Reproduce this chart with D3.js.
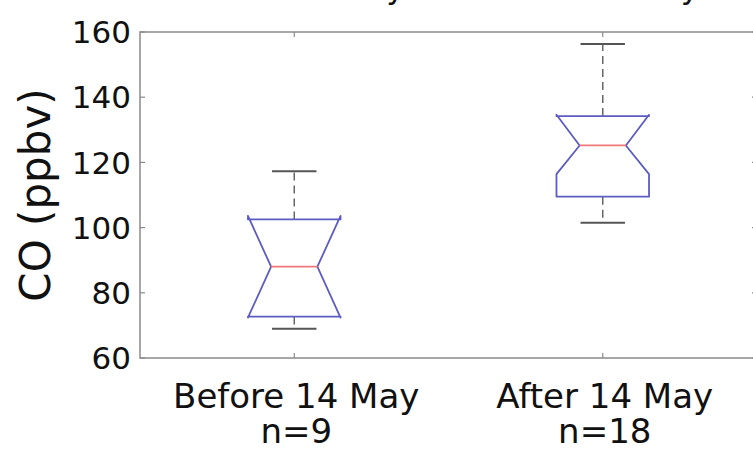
<!DOCTYPE html>
<html>
<head>
<meta charset="utf-8">
<script src="https://cdn.jsdelivr.net/npm/d3@7"></script>
<style>
  body { margin: 0; background: #fff; }
  svg { display: block; }
  text { font-family: "DejaVu Sans", sans-serif; fill: #111; }
</style>
</head>
<body>
<div id="chart"></div>
<script>
// groups and box statistics (CO, ppbv)
const categories = ['Before 14 May', 'After 14 May'];
const counts = [9, 18];
const whiskerLow = [69, 101.5];
const quart1 = [72.7, 109.5];
const medians = [88, 125.2];
const quart3 = [102.5, 134.2];
const whiskerHigh = [117.3, 156.3];
const notchLow = [72.4, 116.4];
const notchHigh = [103.6, 134.6];
const yTicks = [60, 80, 100, 120, 140, 160];

const width = 753, height = 453;
const margin = { top: 32, right: -4, bottom: 95, left: 140 };

const svg = d3.select('#chart').append('svg')
    .attr('width', width)
    .attr('height', height);

const x = d3.scaleLinear()
    .domain([0.5, categories.length + 0.5])
    .range([margin.left, width - margin.right]);

const y = d3.scaleLinear()
    .domain([60, 160])
    .range([height - margin.bottom, margin.top]);

const boxHalf = 0.15;   // box half width in x units
const notchHalf = 0.075;
const capHalf = 0.072;

// frame
svg.append('rect')
    .attr('x', x(0.5)).attr('y', y(160))
    .attr('width', x(2.5) - x(0.5)).attr('height', y(60) - y(160))
    .attr('fill', 'none')
    .attr('stroke', '#8a8a8a')
    .attr('stroke-width', 1.5);

// ticks, pointing inward on all four sides
const tickLen = 5;
const tickG = svg.append('g').attr('stroke', '#8a8a8a').attr('stroke-width', 1.2);
yTicks.forEach(t => {
    tickG.append('line').attr('x1', x(0.5)).attr('x2', x(0.5) + tickLen).attr('y1', y(t)).attr('y2', y(t));
    tickG.append('line').attr('x1', x(2.5)).attr('x2', x(2.5) - tickLen).attr('y1', y(t)).attr('y2', y(t));
});
categories.forEach((c, i) => {
    tickG.append('line').attr('x1', x(i + 1)).attr('x2', x(i + 1)).attr('y1', y(60)).attr('y2', y(60) - tickLen);
    tickG.append('line').attr('x1', x(i + 1)).attr('x2', x(i + 1)).attr('y1', y(160)).attr('y2', y(160) + tickLen);
});

// y tick labels
svg.append('g').selectAll('text')
    .data(yTicks)
    .join('text')
    .attr('x', x(0.5) - 9)
    .attr('y', d => y(d))
    .attr('dy', '0.36em')
    .attr('text-anchor', 'end')
    .attr('font-size', 31)
    .text(d => d);

// y axis title
svg.append('text')
    .attr('transform', `translate(50,${(y(60) + y(160)) / 2}) rotate(-90)`)
    .attr('text-anchor', 'middle')
    .attr('font-size', 42)
    .text('CO (ppbv)');

// x labels with counts
const labelG = svg.append('g').attr('text-anchor', 'middle').attr('font-size', 34);
categories.forEach((c, i) => {
    labelG.append('text').attr('x', x(i + 1) + 2).attr('y', 408).text(c);
    labelG.append('text').attr('x', x(i + 1) + 2).attr('y', 443).text('n=' + counts[i]);
});

// labels of the panel above, cut off at the top edge
categories.forEach((c, i) => {
    svg.append('text')
        .attr('x', x(i + 1) - 5)
        .attr('y', -2)
        .attr('text-anchor', 'middle')
        .attr('font-size', 32)
        .text(c);
});

// boxes
categories.forEach((c, i) => {
    const cx = i + 1;
    const g = svg.append('g');

    // whiskers
    g.append('line')
        .attr('x1', x(cx)).attr('x2', x(cx))
        .attr('y1', y(quart3[i])).attr('y2', y(whiskerHigh[i]))
        .attr('stroke', '#666').attr('stroke-width', 1.5)
        .attr('stroke-dasharray', '8,5');
    g.append('line')
        .attr('x1', x(cx)).attr('x2', x(cx))
        .attr('y1', y(quart1[i])).attr('y2', y(whiskerLow[i]))
        .attr('stroke', '#666').attr('stroke-width', 1.5)
        .attr('stroke-dasharray', '8,5');
    [whiskerHigh[i], whiskerLow[i]].forEach(v => {
        g.append('line')
            .attr('x1', x(cx - capHalf)).attr('x2', x(cx + capHalf))
            .attr('y1', y(v)).attr('y2', y(v))
            .attr('stroke', '#555').attr('stroke-width', 2);
    });

    // notched box
    const pts = [
        [cx - boxHalf, quart1[i]],
        [cx - boxHalf, notchLow[i]],
        [cx - notchHalf, medians[i]],
        [cx - boxHalf, notchHigh[i]],
        [cx - boxHalf, quart3[i]],
        [cx + boxHalf, quart3[i]],
        [cx + boxHalf, notchHigh[i]],
        [cx + notchHalf, medians[i]],
        [cx + boxHalf, notchLow[i]],
        [cx + boxHalf, quart1[i]]
    ];
    g.append('path')
        .attr('d', d3.line().x(d => x(d[0])).y(d => y(d[1]))(pts) + 'Z')
        .attr('fill', 'none')
        .attr('stroke', '#5c5cc4')
        .attr('stroke-width', 1.8)
        .attr('stroke-linejoin', 'round');

    // median
    g.append('line')
        .attr('x1', x(cx - notchHalf)).attr('x2', x(cx + notchHalf))
        .attr('y1', y(medians[i])).attr('y2', y(medians[i]))
        .attr('stroke', '#f07878').attr('stroke-width', 1.8);
});
</script>
</body>
</html>
